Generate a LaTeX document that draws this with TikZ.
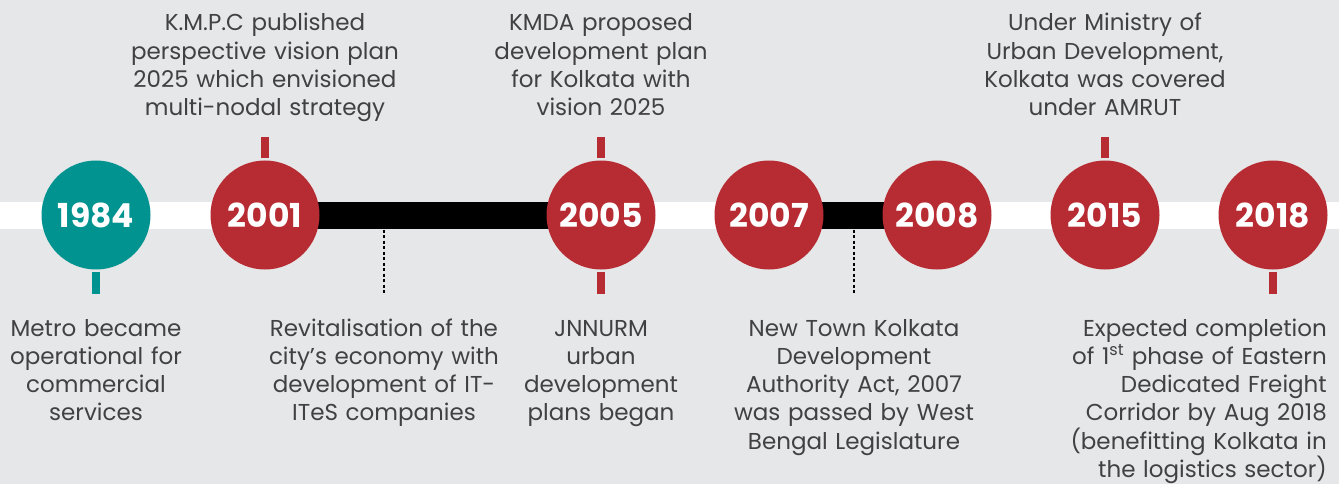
\documentclass[tikz,border=0pt]{standalone}
\usepackage{fontspec}
\setmainfont{Poppins}
\begin{document}
\definecolor{bgc}{HTML}{E6E7E8}
\definecolor{redc}{HTML}{B72C32}
\definecolor{tealc}{HTML}{009390}
\definecolor{txtc}{HTML}{414042}
\begin{tikzpicture}[x=1pt,y=-1pt,
  yearball/.style={circle,fill=redc,minimum size=109pt,inner sep=0pt,
    text=white,font=\fontsize{33}{33}\selectfont\bfseries},
  stem/.style={draw=redc,line width=8pt},
  bar/.style={draw=black,line width=27pt},
  guide/.style={draw=black,line width=1.1pt,dash pattern=on 3pt off 2.5pt},
  note/.style={text=txtc,font=\fontsize{23}{28.3}\selectfont,inner sep=0pt,
    text width=330pt,align=center,anchor=base}]
\fill[bgc] (0,0) rectangle (1339,484);
\useasboundingbox (0,0) rectangle (1339,484);
% white time band
\fill[white] (0,202) rectangle (1339,229);
% black spans between linked years
\draw[bar] (265,215.5) -- (601,215.5);
\draw[bar] (769,215.5) -- (937,215.5);
% year markers
\node[yearball,fill=tealc] (y1984) at (96,215) {1984};
\node[yearball] (y2001) at (265,215) {2001};
\node[yearball] (y2005) at (601,215) {2005};
\node[yearball] (y2007) at (769,215) {2007};
\node[yearball] (y2008) at (937,215) {2008};
\node[yearball] (y2015) at (1105,215) {2015};
\node[yearball] (y2018) at (1273,215) {2018};
% stems
\coordinate (t2001) at (265,137);
\coordinate (t2005) at (601,137);
\coordinate (t2015) at (1105,137);
\coordinate (b1984) at (96,294);
\coordinate (b2005) at (601,294);
\coordinate (b2018) at (1273,294);
\draw[stem] ([yshift=2pt]y2001.north) -- (t2001);
\draw[stem] ([yshift=2pt]y2005.north) -- (t2005);
\draw[stem] ([yshift=2pt]y2015.north) -- (t2015);
\draw[stem,draw=tealc] ([yshift=-2pt]y1984.south) -- (b1984);
\draw[stem] ([yshift=-2pt]y2005.south) -- (b2005);
\draw[stem] ([yshift=-2pt]y2018.south) -- (b2018);
% dashed guides from the spans
\coordinate (g1a) at (384,229.5);
\coordinate (g1b) at (384,294);
\coordinate (g2a) at (854,229.5);
\coordinate (g2b) at (854,294);
\draw[guide] (g1a) -- (g1b);
\draw[guide] (g2a) -- (g2b);
% notes above
\node[note] (n2001) at (265,31) {K.M.P.C published\\perspective vision plan\\2025 which envisioned\\multi-nodal strategy};
\node[note] (n2005a) at (601,31) {KMDA proposed\\development plan\\for Kolkata with\\vision 2025};
\node[note] (n2015) at (1105,31) {Under Ministry of\\Urban Development,\\Kolkata was covered\\under AMRUT};
% notes below
\node[note] (n1984) at (96,336) {Metro became\\operational for\\commercial\\services};
\node[note] (nIT) at (384,336) {Revitalisation of the\\city’s economy with\\development of IT-\\ITeS companies};
\node[note] (n2005b) at (601,336) {JNNURM\\urban\\development\\plans began};
\node[note] (n2007) at (854,336) {New Town Kolkata\\Development\\Authority Act, 2007\\was passed by West\\Bengal Legislature};
\node[note,align=right,anchor=base east,text width=330pt] (n2018) at (1327,336) {Expected completion\\of 1\textsuperscript{st} phase of Eastern\\Dedicated Freight\\Corridor by Aug 2018\\(benefitting Kolkata in\\the logistics sector)};
\end{tikzpicture}
\end{document}
